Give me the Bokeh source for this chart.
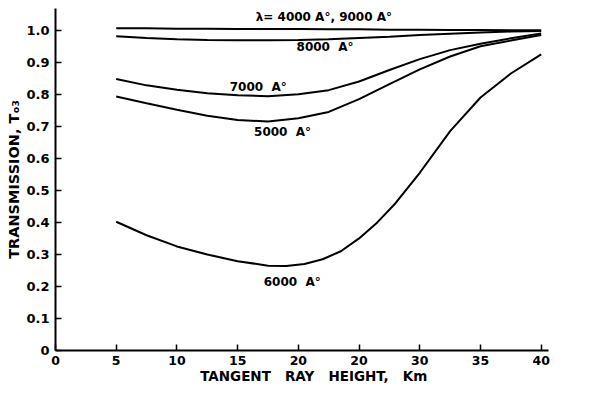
from bokeh.plotting import figure
from bokeh.models import Range1d, FixedTicker, Label
from bokeh.embed import file_html
from bokeh.resources import INLINE

# Tangent ray height (km)
heights = [5, 7.5, 10, 12.5, 15, 17.5, 20, 22.5, 25, 27.5, 30, 32.5, 35, 37.5, 40]

t_4000_9000 = [1.006, 1.006, 1.005, 1.005, 1.004, 1.004, 1.004, 1.003, 1.003, 1.002, 1.002, 1.001, 1.001, 1.0, 1.0]
t_8000 = [0.981, 0.976, 0.972, 0.970, 0.969, 0.969, 0.970, 0.972, 0.976, 0.980, 0.985, 0.989, 0.993, 0.996, 0.998]
t_7000 = [0.848, 0.828, 0.814, 0.803, 0.797, 0.794, 0.800, 0.813, 0.840, 0.876, 0.910, 0.938, 0.958, 0.975, 0.990]
t_5000 = [0.793, 0.772, 0.752, 0.733, 0.720, 0.715, 0.725, 0.745, 0.785, 0.832, 0.878, 0.918, 0.950, 0.968, 0.985]

heights_6000 = [5, 7.5, 10, 12.5, 15, 17.5, 19, 20.5, 22, 23.5, 25, 26.5, 28, 30, 32.5, 35, 37.5, 40]
t_6000 = [0.402, 0.360, 0.325, 0.300, 0.279, 0.265, 0.264, 0.270, 0.285, 0.310, 0.350, 0.400, 0.460,
          0.555, 0.685, 0.790, 0.865, 0.925]

x_ticks = [0, 5, 10, 15, 20, 25, 30, 35, 40]
x_tick_labels = ["0", "5", "10", "15", "20", "20", "30", "35", "40"]
y_ticks = [0, 0.1, 0.2, 0.3, 0.4, 0.5, 0.6, 0.7, 0.8, 0.9, 1.0]
y_tick_labels = ["0", "0.1", "0.2", "0.3", "0.4", "0.5", "0.6", "0.7", "0.8", "0.9", "1.0"]

NB = "\u00a0"
curve_labels = ["λ=" + NB + "4000" + NB + "A°," + NB + "9000" + NB + "A°",
                "8000" + NB + NB + "A°", "7000" + NB + NB + "A°",
                "5000" + NB + NB + "A°", "6000" + NB + NB + "A°"]
label_x = [22.1, 22.2, 16.7, 18.7, 19.5]
label_y = [1.040, 0.947, 0.822, 0.682, 0.215]

x_title = NB * 5 + "TANGENT" + NB * 3 + "RAY" + NB * 3 + "HEIGHT," + NB * 3 + "Km"
y_title = "TRANSMISSION," + NB + "Tₒ₃"

FONT = "DejaVu Sans"

p = figure(width=575, height=386, output_backend="svg", toolbar_location=None,
           x_range=Range1d(0, 40.6), y_range=Range1d(0, 1.068),
           min_border_left=55, min_border_right=27, min_border_top=8, min_border_bottom=33)
p.outline_line_color = None
p.xgrid.visible = False
p.ygrid.visible = False
p.background_fill_color = "white"
p.border_fill_color = "white"

for xs, ys in [(heights, t_4000_9000), (heights, t_8000), (heights, t_7000),
               (heights, t_5000), (heights_6000, t_6000)]:
    p.line(xs, ys, line_color="black", line_width=2)

for ax in [p.xaxis[0], p.yaxis[0]]:
    ax.axis_line_width = 2
    ax.axis_line_color = "black"
    ax.major_tick_in = 6
    ax.major_tick_out = 0
    ax.major_tick_line_width = 1.5
    ax.major_tick_line_color = "black"
    ax.minor_tick_line_color = None
    ax.major_label_text_font = FONT
    ax.major_label_text_font_style = "bold"
    ax.major_label_text_color = "black"
    ax.axis_label_text_font = FONT
    ax.axis_label_text_font_style = "bold"
    ax.axis_label_text_color = "black"

p.xaxis.ticker = FixedTicker(ticks=x_ticks)
p.xaxis.major_label_overrides = {t: s for t, s in zip(x_ticks, x_tick_labels)}
p.yaxis.ticker = FixedTicker(ticks=y_ticks)
p.yaxis.major_label_overrides = {t: s for t, s in zip(y_ticks, y_tick_labels)}
p.xaxis.major_label_text_font_size = "12.5px"
p.yaxis.major_label_text_font_size = "13px"
p.xaxis.major_label_standoff = 5
p.yaxis.major_label_standoff = 6

p.xaxis.axis_label = x_title
p.xaxis.axis_label_text_font_size = "13.5px"
p.xaxis.axis_label_standoff = 0
p.yaxis.axis_label = y_title
p.yaxis.axis_label_text_font_size = "14.5px"
p.yaxis.axis_label_standoff = 1

for txt, lx, ly in zip(curve_labels, label_x, label_y):
    p.add_layout(Label(x=lx, y=ly, text=txt, text_font=FONT, text_font_style="bold",
                       text_font_size="12px", text_color="black",
                       text_align="center", text_baseline="middle"))

open("out.html", "w").write(file_html(p, INLINE))
